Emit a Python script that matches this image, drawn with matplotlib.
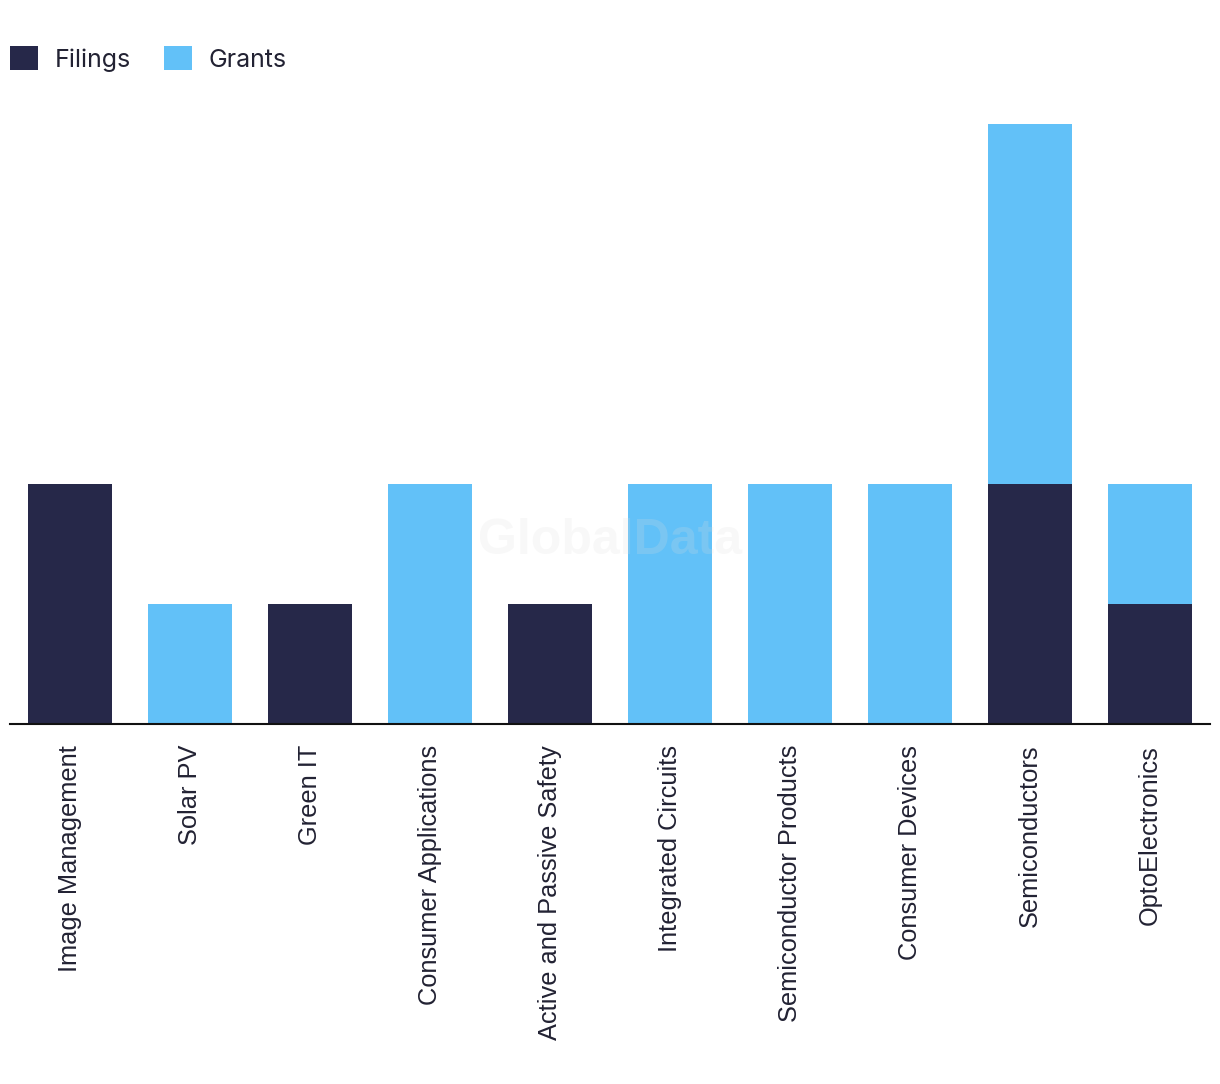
import matplotlib.pyplot as plt
import numpy as np

categories = ["Image Management", "Solar PV", "Green IT", "Consumer Applications",
              "Active and Passive Safety", "Integrated Circuits", "Semiconductor Products",
              "Consumer Devices", "Semiconductors", "OptoElectronics"]
filings = [2, 0, 1, 0, 1, 0, 0, 0, 2, 1]
grants = [0, 1, 0, 2, 0, 2, 2, 2, 3, 1]

navy = "#262849"
blue = "#62C1F8"

fig = plt.figure(figsize=(12.2, 10.84), dpi=100)
ax = fig.add_axes([10 / 1220, (1084 - 724) / 1084, 1200 / 1220, 600 / 1084])

x = np.arange(len(categories))
ax.bar(x, filings, width=0.7, color=navy, label="Filings")
ax.bar(x, grants, width=0.7, bottom=filings, color=blue, label="Grants")

ax.set_xlim(-0.5, len(categories) - 0.5)
ax.set_ylim(0, 5)
ax.set_yticks([])
for s in ["top", "right", "left"]:
    ax.spines[s].set_visible(False)
ax.spines["bottom"].set_linewidth(1.5)
ax.spines["bottom"].set_color("#111111")

ax.set_xticks(x)
ax.set_xticklabels(categories, rotation=90, fontsize=18.3, family="Liberation Sans",
                   color="#222233", va="top")
ax.tick_params(axis="x", length=0, pad=15)

# watermark
fig.text(610 / 1220, 1 - 541 / 1084, "GlobalData", fontsize=36, fontweight="bold",
         family="Liberation Sans", color="#dddddd", alpha=0.2, ha="center", va="center",
         zorder=10)

leg = fig.legend(loc="upper left", bbox_to_anchor=(0, 1 - 36 / 1084), ncol=2,
                 frameon=False, prop={"family": "Inter", "size": 18},
                 handlelength=1.12, handleheight=1.12, handletextpad=0.68, columnspacing=1.3,
                 borderaxespad=0, labelcolor="#222233")

fig.savefig("out.png", dpi=100)
